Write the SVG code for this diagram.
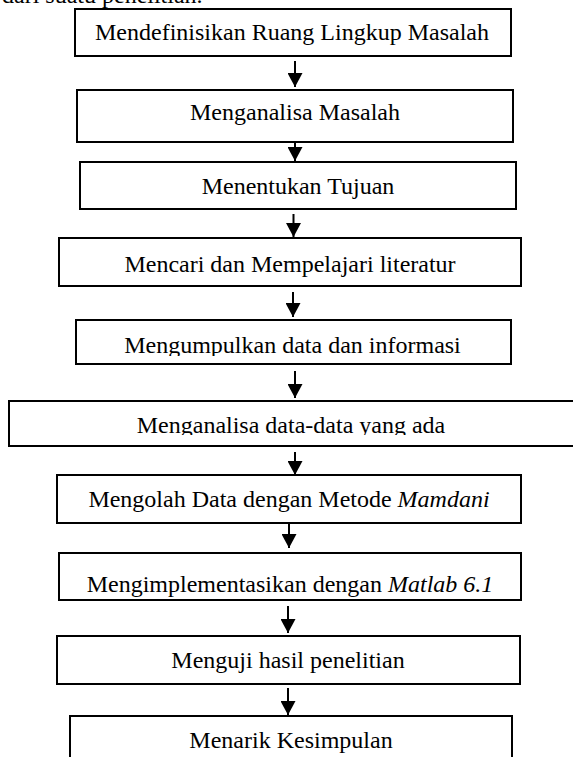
<svg xmlns="http://www.w3.org/2000/svg" width="573" height="757" viewBox="0 0 573 757">
<style>
.box{fill:#fff;stroke:#000;stroke-width:2}
.t{font-family:"Liberation Serif","Times New Roman",serif;font-size:24px;fill:#000;text-anchor:middle}
.i{font-style:italic}
.c{stroke:#000;stroke-width:2;fill:none;marker-end:url(#ah)}
</style>
<defs>
<marker id="ah" viewBox="0 0 14 15" refX="14" refY="7.5" markerWidth="14" markerHeight="15" markerUnits="userSpaceOnUse" orient="auto">
<path d="M0,0 L14,7.5 L0,15 z" fill="#000"/>
</marker>
<clipPath id="clip5"><rect x="0" y="300" width="573" height="56"/></clipPath>
<clipPath id="clip6"><rect x="0" y="400" width="573" height="35"/></clipPath>
</defs>
<text class="t" x="2" y="3" style="text-anchor:start">dari suatu penelitian.</text>
<g id="connectors">
<line class="c" x1="295" y1="61" x2="295" y2="87"/>
<line class="c" x1="295" y1="138" x2="295" y2="161"/>
<line class="c" x1="293.5" y1="214" x2="293.5" y2="237"/>
<line class="c" x1="293" y1="292" x2="293" y2="317"/>
<line class="c" x1="295" y1="371" x2="295" y2="398"/>
<line class="c" x1="295" y1="452" x2="295" y2="475"/>
<line class="c" x1="289" y1="521" x2="289" y2="548"/>
<line class="c" x1="288" y1="606" x2="288" y2="633"/>
<line class="c" x1="288" y1="688" x2="288" y2="715"/>
</g>
<g id="n1"><rect class="box" x="75" y="9" width="436" height="47"/><text class="t" x="292" y="40">Mendefinisikan Ruang Lingkup Masalah</text></g>
<g id="n2"><rect class="box" x="77" y="90" width="436" height="52"/><text class="t" x="295" y="120">Menganalisa Masalah</text></g>
<g id="n3"><rect class="box" x="80" y="162" width="436" height="47"/><text class="t" x="298" y="194">Menentukan Tujuan</text></g>
<g id="n4"><rect class="box" x="59" y="238" width="462" height="48"/><text class="t" x="290" y="272">Mencari dan Mempelajari literatur</text></g>
<g id="n5"><rect class="box" x="76" y="320" width="435" height="44"/><text class="t" x="292.5" y="353" clip-path="url(#clip5)">Mengumpulkan data dan informasi</text></g>
<g id="n6"><rect class="box" x="9" y="401" width="570" height="45"/><text class="t" x="291" y="433" clip-path="url(#clip6)">Menganalisa data-data yang ada</text></g>
<g id="n7"><rect class="box" x="57" y="475" width="464" height="48"/><text class="t" x="289" y="507">Mengolah Data dengan Metode <tspan class="i">Mamdani</tspan></text></g>
<g id="n8"><rect class="box" x="59" y="553" width="462" height="47"/><text class="t" x="290" y="592">Mengimplementasikan dengan <tspan class="i">Matlab 6.1</tspan></text></g>
<g id="n9"><rect class="box" x="57" y="636" width="463" height="48"/><text class="t" x="288" y="668">Menguji hasil penelitian</text></g>
<g id="n10"><rect class="box" x="70" y="716" width="442" height="60"/><text class="t" x="291" y="748">Menarik Kesimpulan</text></g>
</svg>
